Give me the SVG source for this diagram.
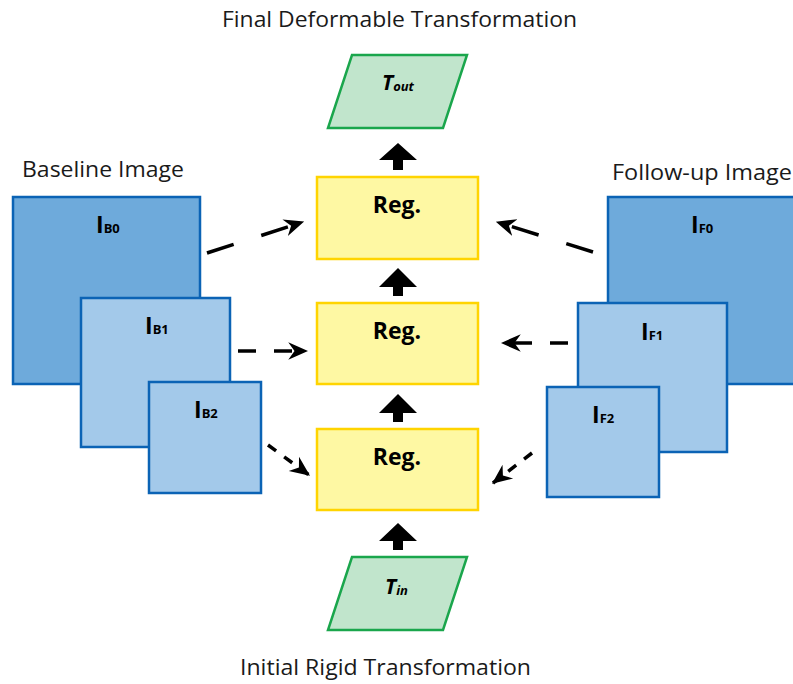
<svg xmlns="http://www.w3.org/2000/svg" width="793" height="684" viewBox="0 0 793 684">
<style>
.title{font-family:"Open Sans","Noto Sans",sans-serif;font-size:22px;fill:#1a1a1a}
.reg{fill:#fef8a3;stroke:#ffd400;stroke-width:2.5}
.regt{font-family:"Open Sans","Noto Sans",sans-serif;font-size:23px;font-weight:bold;fill:#000;text-anchor:middle}
.img0{fill:#6eaadb;stroke:#0b63b5;stroke-width:2.5}
.img1{fill:#a3c9ea;stroke:#0b63b5;stroke-width:2.5}
.it{font-family:"Open Sans","Noto Sans",sans-serif;font-size:23px;font-weight:bold;fill:#000}
.sub{font-size:13px}
.par{fill:#c1e5cc;stroke:#1aa64c;stroke-width:2.5}
.tt{font-family:"Open Sans","Noto Sans",sans-serif;font-size:21px;font-weight:bold;font-style:italic;fill:#000}
.dash{fill:none;stroke:#000;stroke-width:3.5;marker-end:url(#ah)}
.blk{fill:#000}
</style>
<defs>
<marker id="ah" markerUnits="userSpaceOnUse" markerWidth="20" markerHeight="20" viewBox="0 0 16 14" refX="15" refY="7" orient="auto">
<path d="M0,0 L16,7 L0,14 L5,7 z" fill="#000"/>
</marker>
</defs>

<g id="titles">
<text class="title" x="222" y="27" textLength="355" lengthAdjust="spacingAndGlyphs">Final Deformable Transformation</text>
<text class="title" x="22" y="177" textLength="162" lengthAdjust="spacingAndGlyphs">Baseline Image</text>
<text class="title" x="612" y="180" textLength="180" lengthAdjust="spacingAndGlyphs">Follow-up Image</text>
<text class="title" x="240" y="675" textLength="291" lengthAdjust="spacingAndGlyphs">Initial Rigid Transformation</text>
</g>

<g id="IB0"><rect class="img0" x="13" y="197" width="187" height="187"/><text class="it" x="96" y="233">I<tspan class="sub">B0</tspan></text></g>
<g id="IB1"><rect class="img1" x="81" y="298" width="149" height="149"/><text class="it" x="145" y="334">I<tspan class="sub">B1</tspan></text></g>
<g id="IB2"><rect class="img1" x="149" y="382" width="112" height="111"/><text class="it" x="194" y="418">I<tspan class="sub">B2</tspan></text></g>

<g id="IF0"><rect class="img0" x="608" y="197" width="188" height="187"/><text class="it" x="691" y="233">I<tspan class="sub">F0</tspan></text></g>
<g id="IF1"><rect class="img1" x="578" y="303" width="149" height="149"/><text class="it" x="641" y="340">I<tspan class="sub">F1</tspan></text></g>
<g id="IF2"><rect class="img1" x="547" y="387" width="112" height="110"/><text class="it" x="592" y="423">I<tspan class="sub">F2</tspan></text></g>

<g id="reg1"><rect class="reg" x="317" y="177" width="161" height="82"/><text class="regt" x="397" y="213">Reg.</text></g>
<g id="reg2"><rect class="reg" x="317" y="303" width="161" height="81"/><text class="regt" x="397" y="339">Reg.</text></g>
<g id="reg3"><rect class="reg" x="317" y="429" width="161" height="81"/><text class="regt" x="397" y="465">Reg.</text></g>

<g id="Tout"><polygon class="par" points="352,55 467,55 443,128 328,128"/><text class="tt" x="382" y="90">T<tspan font-size="13" dy="1">out</tspan></text></g>
<g id="Tin"><polygon class="par" points="352,557 467,557 443,630 328,630"/><text class="tt" x="385" y="594">T<tspan font-size="13" dy="1">in</tspan></text></g>

<g id="connectors">
<path class="blk" d="M398,143 L417,160 L403,160 L403,170 L393,170 L393,160 L379,160 z"/>
<path class="blk" d="M398,268 L417,287 L403,287 L403,296 L393,296 L393,287 L379,287 z"/>
<path class="blk" d="M398,394 L417,413 L403,413 L403,422 L393,422 L393,413 L379,413 z"/>
<path class="blk" d="M398,523 L417,541 L403,541 L403,550 L393,550 L393,541 L379,541 z"/>
<path class="dash" d="M207,253 L303,222" stroke-dasharray="28 29"/>
<path class="dash" d="M238,351 L307,351" stroke-dasharray="18 18"/>
<path class="dash" d="M268,445 L309,475" stroke-dasharray="10 10"/>
<path class="dash" d="M593,252 L497,222" stroke-dasharray="28 29"/>
<path class="dash" d="M568,343 L502,343" stroke-dasharray="18 18"/>
<path class="dash" d="M532,453 L493,483" stroke-dasharray="10 10"/>
</g>
</svg>
